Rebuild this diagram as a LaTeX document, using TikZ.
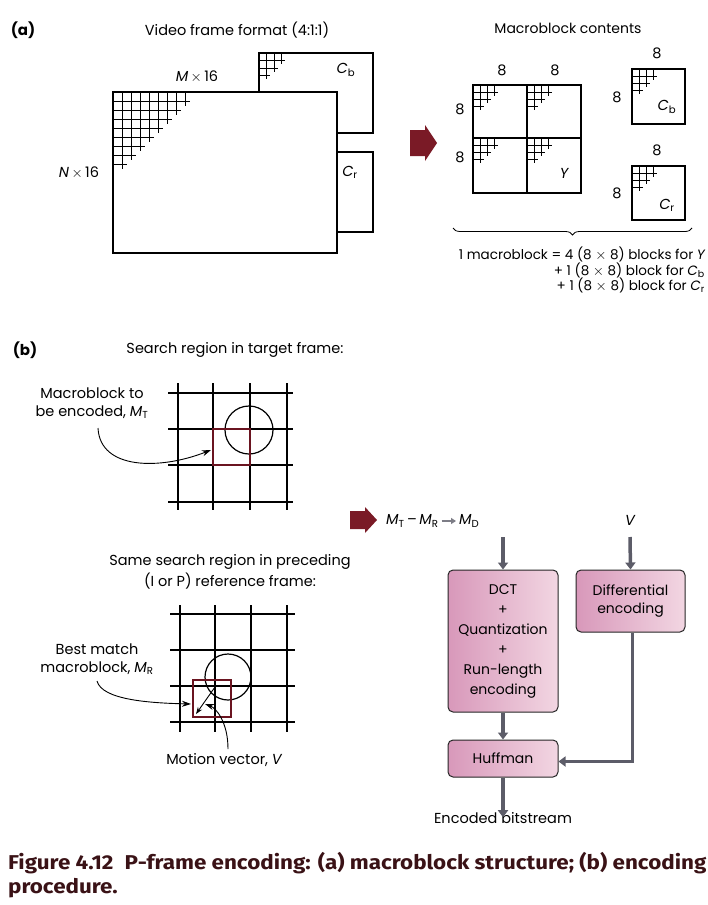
\documentclass[tikz,border=0pt]{standalone}
\usepackage{fontspec}
\setmainfont{Poppins}
\newfontfamily\capfont{Fira Sans}
\usetikzlibrary{arrows.meta,decorations.pathreplacing,calc}
\definecolor{blockred}{HTML}{7A1A26}
\definecolor{sqred}{HTML}{6A1420}
\definecolor{arrgray}{HTML}{5C5C68}
\definecolor{pinkA}{HTML}{D898BA}
\definecolor{pinkB}{HTML}{F2D6E2}
\definecolor{capred}{HTML}{3A1216}
\newcommand{\stairgrid}[4]{%
  \foreach \i in {1,...,#3}{%
    \draw[gridline] (#1+\i*#4, #2) -- (#1+\i*#4, #2+#3*#4+1.5*#4-\i*#4);
    \draw[gridline] (#1, #2+\i*#4) -- (#1+#3*#4+1.5*#4-\i*#4, #2+\i*#4);
  }}
\tikzset{
  gridline/.style={line width=0.9pt},
  frame/.style={draw, line width=1.2pt, fill=white},
  sgrid/.style={line width=1.1pt},
  lbl/.style={inner sep=0pt},
  pbox/.style={draw=black!85, line width=1pt, rounded corners=5pt, left color=pinkA, right color=pinkB, align=center, inner sep=0pt, font=\fontsize{14}{20}\selectfont},
  garrow/.style={draw=arrgray, line width=3.5pt, -{Triangle[length=7pt,width=10pt]}},
  curvarrow/.style={line width=0.9pt, -{Stealth[length=9pt,width=6pt]}},
}
\begin{document}
\begin{tikzpicture}[x=1pt,y=-1pt, font=\fontsize{14.5}{17}\selectfont]
\useasboundingbox (0,0) rectangle (707,905);

% ---------------- (a) ----------------
\node[lbl, font=\fontsize{15}{17}\selectfont\bfseries] (ta) at (23,30) {(a)};
\node[lbl] (tvideo) at (237,30) {Video frame format (4:1:1)};

% Cb and Cr planes
\draw[frame] (259,53) rectangle (373,133);
\stairgrid{259}{53}{3}{7.5}
\draw[frame] (300,152) rectangle (373,232);
% Y plane
\draw[frame] (113,92) rectangle (337,253);
\stairgrid{113}{92}{8}{9}

\node[lbl] (tM) at (197,77) {{\itshape M}\,$\times$\,16};
\node[lbl] (tN) at (79,173) {{\itshape N}\,$\times$\,16};
\node[lbl] (tCb) at (346,70) {{\itshape C}\textsubscript{b}};
\node[lbl] (tCr) at (350,172) {{\itshape C}\textsubscript{r}};

% block arrow (a)
\fill[blockred] (410,130) -- (425,130) -- (425,125) -- (437,143) -- (425,161) -- (425,156) -- (410,156) -- cycle;

\node[lbl, font=\fontsize{14}{17}\selectfont] (tmb) at (568,28) {Macroblock contents};

% Y blocks
\draw[line width=1.2pt] (473,85) rectangle (581,193);
\draw[line width=1.2pt] (527,85) -- (527,193);
\draw[line width=1.6pt] (473,138) -- (581,138);
\stairgrid{473}{85}{3}{7}
\stairgrid{527}{85}{3}{7}
\stairgrid{473}{138}{3}{7}
\stairgrid{527}{138}{3}{7}
\node[lbl] (e1) at (502,70) {8};
\node[lbl] (e2) at (555,70) {8};
\node[lbl] (e3) at (460,109) {8};
\node[lbl] (e4) at (460,157) {8};
\node[lbl] (tY) at (564,173) {\itshape Y};

% Cb block
\draw[line width=1.2pt] (632,69) rectangle (685,124);
\stairgrid{632}{69}{3}{7}
\node[lbl] (e5) at (657,53) {8};
\node[lbl] (e6) at (617,97) {8};
\node[lbl] (tCb2) at (667,107) {{\itshape C}\textsubscript{b}};
% Cr block
\draw[line width=1.2pt] (632,166) rectangle (685,220);
\stairgrid{632}{166}{3}{7}
\node[lbl] (e7) at (657,150) {8};
\node[lbl] (e8) at (617,193) {8};
\node[lbl] (tCr2) at (667,205) {{\itshape C}\textsubscript{r}};

% brace
\draw[line width=0.8pt, decorate, decoration={brace, mirror, amplitude=7pt}] (453,228) -- (692,228);

\node[lbl, anchor=north east, align=right, font=\fontsize{13.5}{15.5}\selectfont] (lsum) at (705,247) {1 macroblock = 4 (8 $\times$ 8) blocks for {\itshape Y}\\+ 1 (8 $\times$ 8) block for {\itshape C}\textsubscript{b}\\+ 1 (8 $\times$ 8) block for {\itshape C}\textsubscript{r}};

% ---------------- (b) ----------------
\node[lbl, font=\fontsize{15}{17}\selectfont\bfseries] (tb) at (25,350) {(b)};
\node[lbl] (tsearch) at (235,350) {Search region in target frame:};

% target grid
\foreach \x in {178,213,250,287} \draw[sgrid] (\x,383) -- (\x,510);
\foreach \y in {393,429,465,502} \draw[sgrid] (168,\y) -- (293,\y);
\draw[line width=1.2pt] (249,430) circle (24);
\draw[draw=sqred, line width=2.2pt] (213,429) rectangle (250,465);
\coordinate (mtin) at (211,450);
\node[lbl, align=center, font=\fontsize{14.5}{18}\selectfont] (tmt) at (92,403) {Macroblock to\\be encoded, {\itshape M}\textsubscript{T}};
\draw[curvarrow] (98,428) .. controls (100,470) and (160,470) .. (mtin);

\node[lbl, align=center, font=\fontsize{14.5}{21}\selectfont] (tsame) at (230,572) {Same search region in preceding\\(I or P) reference frame:};

% reference grid
\foreach \x in {180,215,251,287} \draw[sgrid] (\x,605) -- (\x,732);
\foreach \y in {614,650,686,722} \draw[sgrid] (170,\y) -- (295,\y);
\draw[line width=1.2pt] (228,677) circle (23);
\draw[draw=sqred, line width=2.2pt] (193,680) rectangle (231,717);
\coordinate (mvs) at (215,687);
\coordinate (mve) at (196,714);
\draw[line width=0.9pt, -{Stealth[length=7pt,width=5pt]}] (mvs) -- (mve);
\coordinate (mrin) at (191,704);
\node[lbl, align=center, font=\fontsize{14.5}{18}\selectfont] (tmr) at (97,659) {Best match\\macroblock, {\itshape M}\textsubscript{R}};
\draw[curvarrow] (97,681) .. controls (102,700) and (150,703) .. (mrin);
\coordinate (mvin) at (205,704);
\node[lbl] (tmv) at (224,760) {Motion vector, {\itshape V}};
\draw[curvarrow] (228,749) .. controls (228,722) and (216,708) .. (mvin);

% block arrow (b)
\fill[blockred] (350,511) -- (365,511) -- (365,507) -- (377,520) -- (365,533) -- (365,529) -- (350,529) -- cycle;

\node[lbl, anchor=west] (tdiff) at (386,521) {{\itshape M}\textsubscript{T}\,--\,{\itshape M}\textsubscript{R}};
\node[lbl, anchor=west] (tmd) at (459,521) {{\itshape M}\textsubscript{D}};
\draw[draw=arrgray!80, line width=2pt, -{Triangle[length=5pt,width=6pt]}] ([xshift=3pt]tdiff.east) -- ([xshift=-3pt]tmd.west);
\node[lbl] (tv) at (630,520) {\itshape V};

% boxes
\node[pbox, minimum width=110pt, minimum height=142pt] (dct) at (503,641) {DCT\\+\\Quantization\\+\\Run-length\\encoding};
\node[pbox, minimum width=109pt, minimum height=62pt, font=\fontsize{14}{18}\selectfont] (denc) at (630.5,601) {Differential\\encoding};
\node[pbox, minimum width=110pt, minimum height=37pt] (huff) at (503,758.5) {Huffman};
\node[lbl] (tenc) at (503,818) {Encoded bitstream};

\coordinate (mdarr) at (503,537);
\draw[garrow] (mdarr) -- (dct.north);
\draw[garrow] (tv.south |- mdarr) -- (denc.north);
\draw[garrow] (dct.south) -- (huff.north);
\draw[garrow] ([xshift=2pt]denc.south) |- ([yshift=-3pt]huff.east);
\draw[garrow] (huff.south) -- ([yshift=-5pt]tenc.north);

% caption
\node[lbl, anchor=west, text=capred, font=\capfont\bfseries\fontsize{20}{24}\selectfont] (cap1) at (8,863) {\scalebox{1.12}[1]{Figure 4.12\enspace P-frame encoding: (a) macroblock structure; (b) encoding}};
\node[lbl, anchor=west, text=capred, font=\capfont\bfseries\fontsize{20}{24}\selectfont] (cap2) at (8,888) {\scalebox{1.12}[1]{procedure.}};
\end{tikzpicture}
\end{document}
